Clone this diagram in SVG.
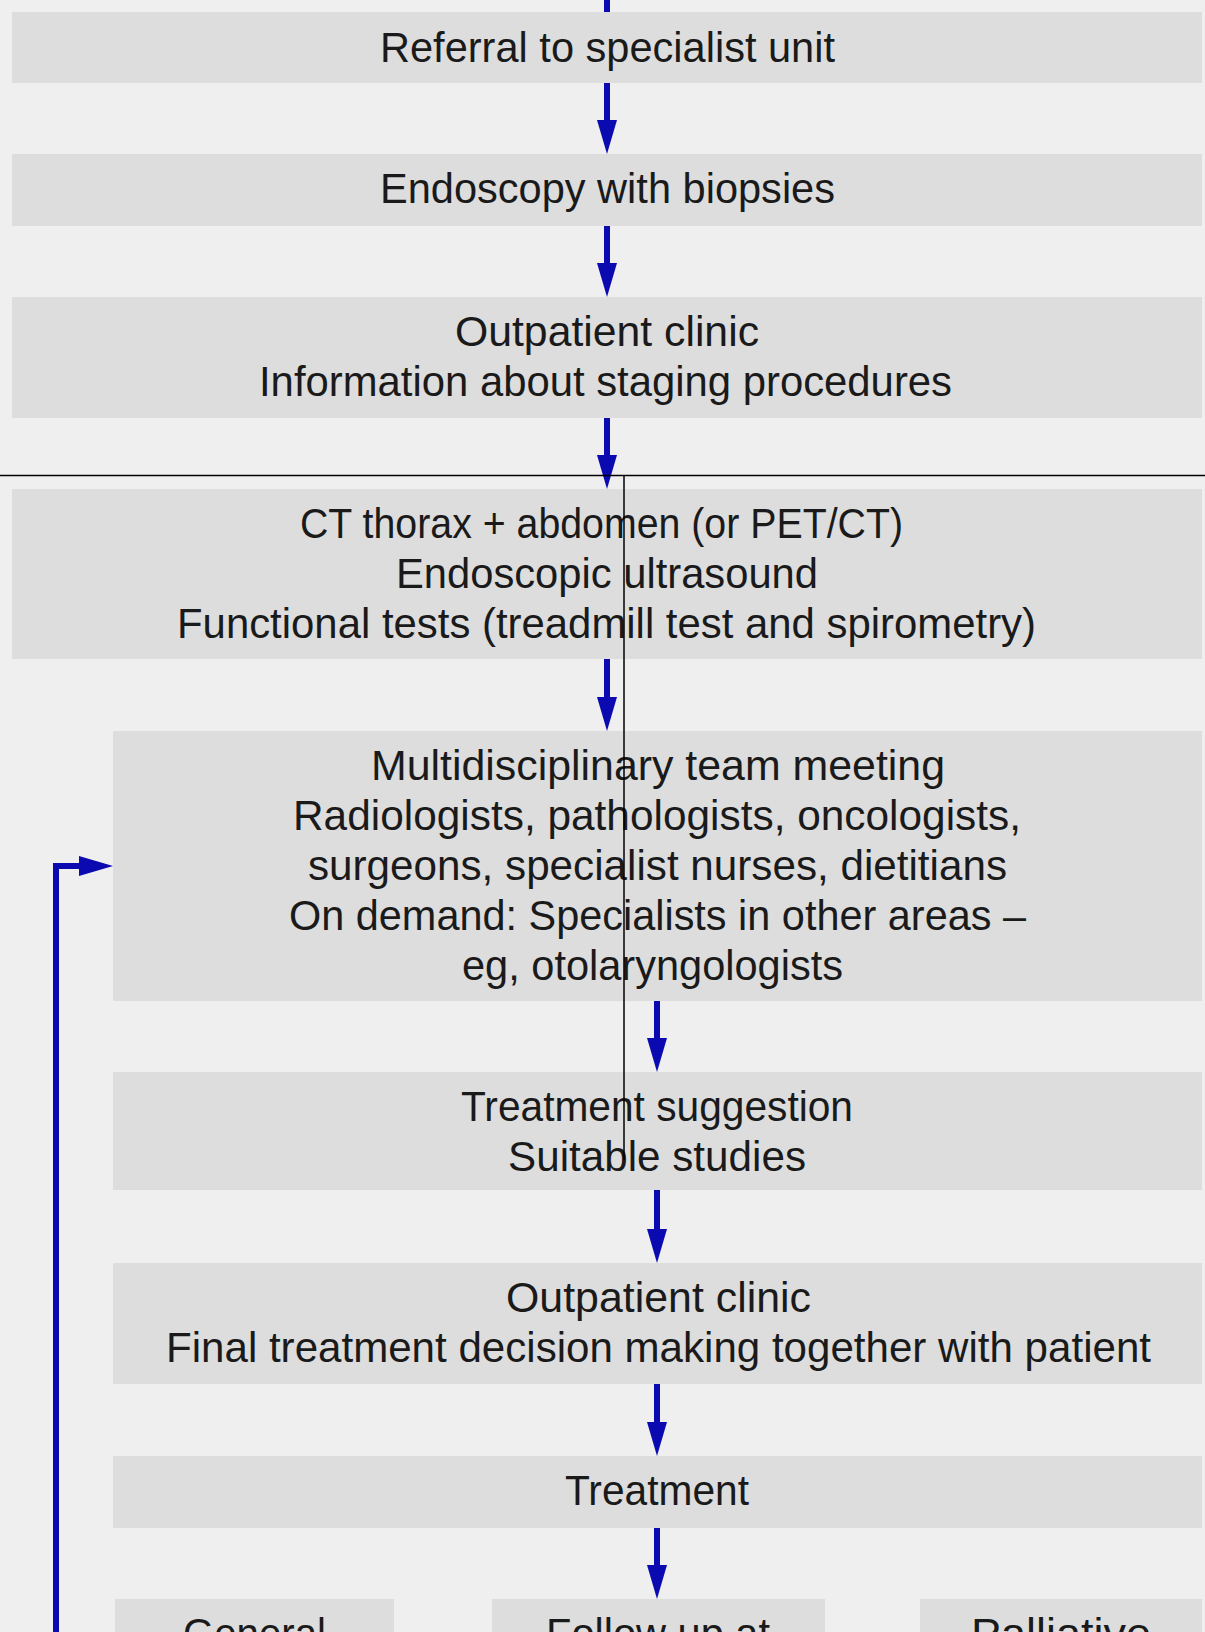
<svg xmlns="http://www.w3.org/2000/svg" width="1205" height="1632" viewBox="0 0 1205 1632">
  <style>
    .box { fill: #dddddd; }
    .t { font-family: "Liberation Sans", Arial, sans-serif; font-size: 42px; fill: #1a1a1a; text-anchor: middle; }
    .c { stroke: #0a0ab0; stroke-width: 6; fill: none; }
    .guide { stroke: #000000; stroke-width: 1.5; fill: none; }
  </style>
  <defs>
    <marker id="ah" viewBox="0 0 34 20" refX="4" refY="10" markerWidth="34" markerHeight="20" markerUnits="userSpaceOnUse" orient="auto">
      <path d="M0,0 L34,10 L0,20 Z" fill="#0a0ab0"/>
    </marker>
  </defs>
  <rect x="0" y="0" width="1205" height="1632" fill="#efefef"/>

  <g id="n1">
    <rect class="box" x="12" y="12" width="1190" height="71"/>
    <text class="t" x="607.5" y="62" textLength="455" lengthAdjust="spacingAndGlyphs">Referral to specialist unit</text>
  </g>
  <g id="n2">
    <rect class="box" x="12" y="154" width="1190" height="72"/>
    <text class="t" x="607.5" y="203" textLength="455" lengthAdjust="spacingAndGlyphs">Endoscopy with biopsies</text>
  </g>
  <g id="n3">
    <rect class="box" x="12" y="297" width="1190" height="121"/>
    <text class="t" x="607" y="346" textLength="304" lengthAdjust="spacingAndGlyphs">Outpatient clinic</text>
    <text class="t" x="605.5" y="396" textLength="693" lengthAdjust="spacingAndGlyphs">Information about staging procedures</text>
  </g>
  <g id="n4">
    <rect class="box" x="12" y="489" width="1190" height="170"/>
    <text class="t" x="601.5" y="538" textLength="603" lengthAdjust="spacingAndGlyphs">CT thorax + abdomen (or PET/CT)</text>
    <text class="t" x="607" y="588" textLength="422" lengthAdjust="spacingAndGlyphs">Endoscopic ultrasound</text>
    <text class="t" x="606.5" y="638" textLength="859" lengthAdjust="spacingAndGlyphs">Functional tests (treadmill test and spirometry)</text>
  </g>
  <g id="n5">
    <rect class="box" x="113" y="731" width="1089" height="270"/>
    <text class="t" x="658" y="780" textLength="574" lengthAdjust="spacingAndGlyphs">Multidisciplinary team meeting</text>
    <text class="t" x="657" y="830" textLength="728" lengthAdjust="spacingAndGlyphs">Radiologists, pathologists, oncologists,</text>
    <text class="t" x="657.5" y="880" textLength="699" lengthAdjust="spacingAndGlyphs">surgeons, specialist nurses, dietitians</text>
    <text class="t" x="657.5" y="930" textLength="737" lengthAdjust="spacingAndGlyphs">On demand: Specialists in other areas –</text>
    <text class="t" x="652.5" y="980" textLength="381" lengthAdjust="spacingAndGlyphs">eg, otolaryngologists</text>
  </g>
  <g id="n6">
    <rect class="box" x="113" y="1072" width="1089" height="118"/>
    <text class="t" x="657" y="1121" textLength="392" lengthAdjust="spacingAndGlyphs">Treatment suggestion</text>
    <text class="t" x="657" y="1171" textLength="298" lengthAdjust="spacingAndGlyphs">Suitable studies</text>
  </g>
  <g id="n7">
    <rect class="box" x="113" y="1263" width="1089" height="121"/>
    <text class="t" x="658.5" y="1312" textLength="305" lengthAdjust="spacingAndGlyphs">Outpatient clinic</text>
    <text class="t" x="658.5" y="1362" textLength="985" lengthAdjust="spacingAndGlyphs">Final treatment decision making together with patient</text>
  </g>
  <g id="n8">
    <rect class="box" x="113" y="1456" width="1089" height="72"/>
    <text class="t" x="657" y="1505" textLength="184" lengthAdjust="spacingAndGlyphs">Treatment</text>
  </g>
  <g id="n9">
    <rect class="box" x="115" y="1599" width="279" height="60"/>
    <text class="t" x="254.5" y="1648" textLength="143" lengthAdjust="spacingAndGlyphs">General</text>
  </g>
  <g id="n10">
    <rect class="box" x="492" y="1599" width="333" height="60"/>
    <text class="t" x="658" y="1648" textLength="224" lengthAdjust="spacingAndGlyphs">Follow up at</text>
  </g>
  <g id="n11">
    <rect class="box" x="920" y="1599" width="282" height="60"/>
    <text class="t" x="1061" y="1648" textLength="180" lengthAdjust="spacingAndGlyphs">Palliative</text>
  </g>

  <g id="connectors">
    <line class="c" x1="607" y1="0" x2="607" y2="12"/>
    <line class="c" x1="607" y1="83" x2="607" y2="124" marker-end="url(#ah)"/>
    <line class="c" x1="607" y1="226" x2="607" y2="267" marker-end="url(#ah)"/>
    <line class="c" x1="607" y1="418" x2="607" y2="459" marker-end="url(#ah)"/>
    <line class="c" x1="607" y1="659" x2="607" y2="701" marker-end="url(#ah)"/>
    <line class="c" x1="657" y1="1001" x2="657" y2="1042" marker-end="url(#ah)"/>
    <line class="c" x1="657" y1="1190" x2="657" y2="1233" marker-end="url(#ah)"/>
    <line class="c" x1="657" y1="1384" x2="657" y2="1426" marker-end="url(#ah)"/>
    <line class="c" x1="657" y1="1528" x2="657" y2="1569" marker-end="url(#ah)"/>
    <path class="c" d="M56,1632 V866 H83" marker-end="url(#ah)"/>
  </g>

  <g id="guides">
    <line class="guide" x1="0" y1="475.5" x2="1205" y2="475.5"/>
    <line class="guide" x1="624" y1="475.5" x2="624" y2="1160"/>
  </g>
</svg>
